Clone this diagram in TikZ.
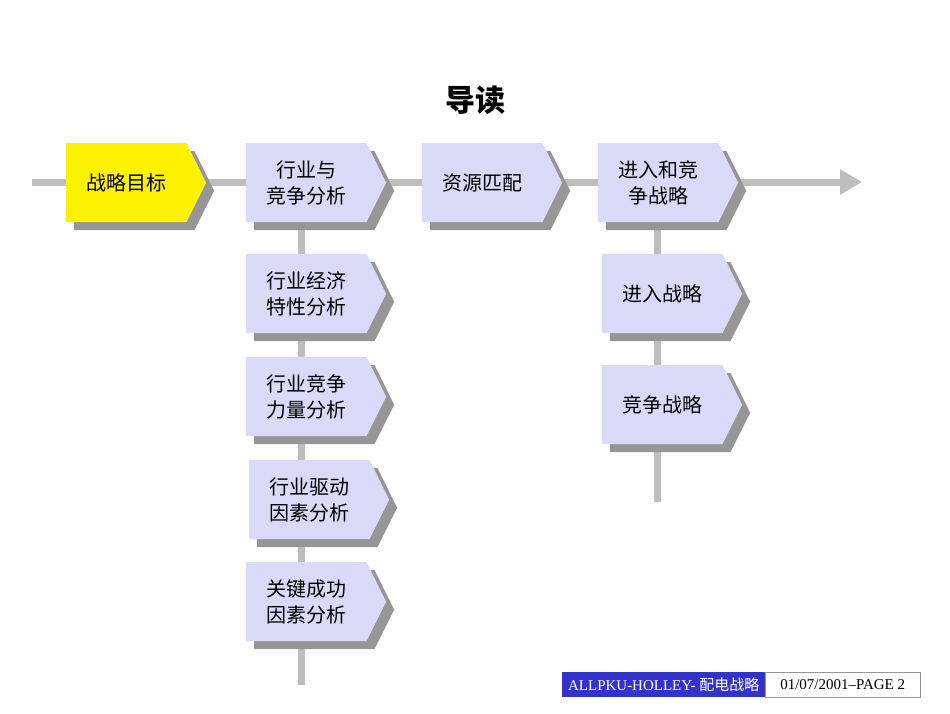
\documentclass[tikz,border=0pt]{standalone}
\usepackage{fontspec}
\newfontfamily\cjk{Noto Sans CJK SC}
\setmainfont{Liberation Serif}
\usetikzlibrary{arrows.meta,positioning,shapes.symbols,shadows}
\definecolor{stepfill}{RGB}{218,218,248}
\definecolor{stepgray}{RGB}{150,150,150}
\definecolor{linegray}{RGB}{190,190,190}
\definecolor{footblue}{RGB}{51,51,204}
\tikzset{
	stepbox/.style={signal,signal to=east,signal pointer angle=127,draw=none,fill=stepfill,
		minimum width=140pt,minimum height=79pt,inner sep=0pt,anchor=north west,align=center,
		font=\cjk\fontsize{20}{26}\selectfont,
		drop shadow={shadow xshift=8pt,shadow yshift=-8pt,fill=stepgray,opacity=1}},
	goalbox/.style={stepbox,fill=yellow},
	track/.style={line width=7pt,linegray}
}
\begin{document}
\begin{tikzpicture}[x=1pt,y=-1pt]
	\useasboundingbox (0,0) rectangle (950,713);
	\node[font=\cjk\bfseries\fontsize{30}{34}\selectfont] (title) at (475,100) {导读};
	% tracks
	\coordinate (start) at (32,182);
	\coordinate (end) at (862,182);
	\coordinate (leftend) at (301,685);
	\coordinate (rightend) at (657,502);
	\draw[track,-{Triangle[length=22pt,width=24pt]}] (start) -- (end);
	\draw[track] (301,222) -- (leftend);
	\draw[track] (657,222) -- (rightend);
	% main steps
	\node[goalbox] (goal) at (66,143) {战略目标};
	\node[stepbox] (industry) at (246,143) {行业与\\竞争分析};
	\node[stepbox] (resource) at (422,143) {资源匹配};
	\node[stepbox] (strategy) at (598,143) {进入和竞\\争战略};
	% industry analysis
	\node[stepbox] (economy) at (246,254) {行业经济\\特性分析};
	\node[stepbox] (forces) at (246,357) {行业竞争\\力量分析};
	\node[stepbox] (drivers) at (249,460) {行业驱动\\因素分析};
	\node[stepbox] (success) at (246,562) {关键成功\\因素分析};
	% strategies
	\node[stepbox] (entry) at (602,254) {进入战略};
	\node[stepbox] (compete) at (602,365) {竞争战略};
	% footer
	\node[fill=footblue,text=white,minimum width=203pt,minimum height=25pt,inner sep=0pt,anchor=north west,
		font=\fontsize{15}{17}\selectfont] (footname) at (562,672) {ALLPKU-HOLLEY- {\cjk 配电战略}};
	\node[draw=stepgray,fill=white,minimum width=155pt,minimum height=25pt,inner sep=0pt,anchor=north west,
		font=\fontsize{15}{17}\selectfont] (footpage) at (765,672) {01/07/2001--PAGE 2};
\end{tikzpicture}
\end{document}
